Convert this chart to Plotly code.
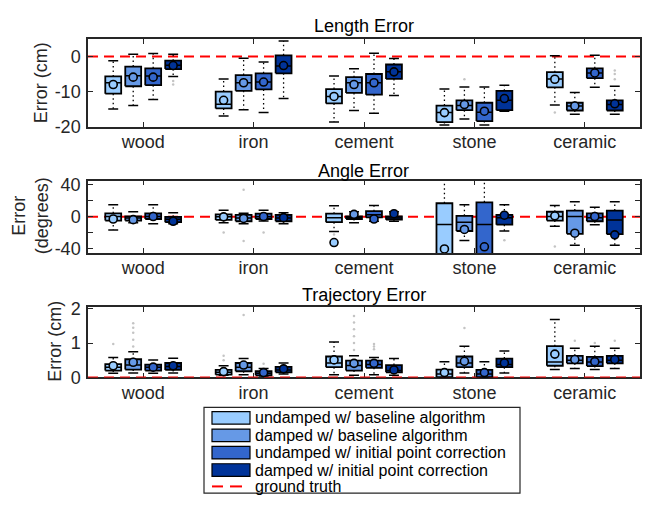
import plotly.graph_objects as go

# ---------------------------------------------------------------- data
CATEGORIES = ["wood", "iron", "cement", "stone", "ceramic"]
SERIES = [
    "undamped w/ baseline algorithm",
    "damped w/ baseline algorithm",
    "undamped w/ initial point correction",
    "damped w/ initial point correction",
]
COLORS = ["#99ccff", "#6699e6", "#3366cc", "#003399"]

# Length error (cm); each row is one series, each column one material
LEN_LO = [[-15.0, -17.0, -18.7, -19.5, -13.8],
          [-14.0, -15.2, -15.4, -17.8, -16.5],
          [-12.3, -16.0, -16.2, -19.5, -8.8],
          [-5.7, -12.0, -11.1, -15.6, -16.5]]
LEN_Q1 = [[-10.6, -14.8, -13.4, -18.7, -8.8],
          [-8.5, -9.8, -10.4, -15.3, -15.4],
          [-8.2, -9.4, -10.9, -18.4, -6.2],
          [-3.6, -4.8, -6.4, -15.3, -15.4]]
LEN_MED = [[-7.5, -13.6, -11.4, -16.0, -6.4],
           [-5.5, -7.5, -7.5, -14.0, -14.1],
           [-5.6, -7.3, -7.5, -15.9, -4.7],
           [-2.5, -2.7, -4.4, -12.5, -13.7]]
LEN_Q3 = [[-5.7, -10.0, -9.3, -14.0, -4.5],
          [-2.9, -5.3, -5.9, -12.5, -13.2],
          [-3.4, -4.8, -5.0, -13.2, -3.4],
          [-1.2, 0.3, -2.3, -9.8, -12.5]]
LEN_HI = [[-1.2, -6.4, -5.6, -9.3, 0.2],
          [0.6, -0.5, -3.5, -8.7, -10.3],
          [0.8, -1.6, 0.9, -8.7, 0.3],
          [0.6, 4.4, -0.6, -8.2, -8.5]]
LEN_MEAN = [[-8.0, -12.5, -11.4, -16.0, -6.5],
            [-5.9, -7.5, -8.0, -13.7, -14.1],
            [-5.9, -7.3, -7.5, -15.6, -4.7],
            [-2.6, -2.6, -4.4, -12.0, -13.5]]
LEN_OUT = [[[], [], [], [], [-16.0]],
           [[], [], [], [-6.5], []],
           [[], [], [], [], []],
           [[-7.0, -8.0], [], [], [], [-4.0, -5.0, -6.5]]]

# Angle error (degrees)
ANG_LO = [[-16.5, -7.5, -18.4, -60.0, -11.8],
          [-7.5, -8.6, -7.5, -29.4, -35.3],
          [-8.6, -5.1, -5.5, -60.0, -9.8],
          [-8.6, -8.6, -5.5, -17.6, -35.3]]
ANG_Q1 = [[-4.7, -3.9, -6.7, -55.0, -4.7],
          [-4.7, -5.5, -2.7, -17.6, -21.2],
          [-2.7, -2.7, -0.8, -55.0, -5.5],
          [-6.7, -5.5, -3.5, -9.8, -21.6]]
ANG_MED = [[0.5, 0.0, -1.0, -9.4, 0.4],
           [-1.5, -1.5, -1.0, -6.7, 0.4],
           [0.4, 0.0, 2.5, -9.4, -1.0],
           [-3.0, -1.5, -1.5, -1.2, -3.9]]
ANG_Q3 = [[4.3, 3.1, 3.9, 16.9, 6.3],
          [0.4, 2.4, 0.4, 1.2, 7.8],
          [4.3, 3.9, 7.0, 18.0, 4.3],
          [0.0, 2.4, 0.4, 2.4, 7.8]]
ANG_HI = [[15.0, 8.2, 13.7, 60.0, 14.0],
          [6.3, 4.3, 6.3, 15.0, 18.8],
          [15.0, 8.2, 14.0, 60.0, 11.8],
          [5.0, 5.0, 6.3, 15.0, 18.8]]
ANG_MEAN = [[-2.7, 0.0, -32.0, -40.0, 1.2],
            [-3.5, -2.0, 3.1, -15.7, -20.4],
            [0.4, 0.4, -2.7, -37.3, 0.4],
            [-5.5, -1.0, 3.9, 2.0, -22.4]]
ANG_OUT = [[[], [-19.6], [-22.0, -28.0], [], [-37.0]],
           [[], [33.8, -30.0], [], [], []],
           [[], [-19.6], [], [], []],
           [[], [], [], [-29.0], []]]

# Trajectory error (cm)
TRA_LO = [[0.12, 0.06, 0.08, 0.0, 0.23],
          [0.13, 0.08, 0.06, 0.13, 0.26],
          [0.12, 0.04, 0.08, 0.0, 0.23],
          [0.13, 0.10, 0.06, 0.13, 0.26]]
TRA_Q1 = [[0.20, 0.08, 0.30, 0.01, 0.34],
          [0.23, 0.18, 0.20, 0.30, 0.41],
          [0.20, 0.06, 0.28, 0.01, 0.33],
          [0.22, 0.15, 0.15, 0.30, 0.41]]
TRA_MED = [[0.30, 0.15, 0.42, 0.10, 0.45],
           [0.36, 0.30, 0.35, 0.42, 0.50],
           [0.30, 0.12, 0.38, 0.10, 0.45],
           [0.32, 0.22, 0.20, 0.38, 0.50]]
TRA_Q3 = [[0.39, 0.22, 0.61, 0.23, 0.91],
          [0.53, 0.42, 0.49, 0.61, 0.63],
          [0.37, 0.18, 0.49, 0.22, 0.60],
          [0.42, 0.31, 0.36, 0.55, 0.63]]
TRA_HI = [[0.58, 0.34, 1.03, 0.46, 1.69],
          [0.75, 0.55, 0.63, 0.91, 0.85],
          [0.51, 0.26, 0.58, 0.46, 0.91],
          [0.56, 0.42, 0.55, 0.77, 0.85]]
TRA_MEAN = [[0.34, 0.17, 0.51, 0.14, 0.68],
            [0.44, 0.36, 0.41, 0.47, 0.52],
            [0.30, 0.14, 0.41, 0.14, 0.46],
            [0.34, 0.25, 0.22, 0.42, 0.52]]
TRA_OUT = [[[0.97], [0.5, 0.63], [], [], []],
           [[0.9, 1.1, 1.3, 1.45, 1.58], [1.82], [0.8, 1.0, 1.2, 1.4, 1.6, 1.79], [1.44], [1.07]],
           [[], [0.4], [0.82, 0.9, 0.97], [], [1.0]],
           [[], [], [], [], [1.07]]]

# ---------------------------------------------------------------- geometry
W, H = 646, 508
GAP = 0.181      # spacing between the four boxes of a group
BW = 0.072       # half box width
CW = 0.045       # half whisker-cap width
AX_COLOR = "#262626"
FONT = "Liberation Sans, Arial, Helvetica, sans-serif"


def xpos(s, c):
    return c + 1 + (s - 1.5) * GAP


def px(xp):
    return xp / W


def py(yp):
    return 1 - yp / H


fig = go.Figure()


def add_panel(xr, yr, lo, q1, med, q3, hi, mean, outl):
    # ground-truth reference line
    fig.add_trace(go.Scatter(x=[0.5, 5.5], y=[0, 0], mode="lines", xaxis=xr, yaxis=yr,
                             line=dict(color="#ff0000", width=2, dash="10px,6px"),
                             showlegend=False, hoverinfo="skip"))
    # outliers
    ox, oy = [], []
    for s in range(4):
        for c in range(5):
            for v in outl[s][c]:
                ox.append(xpos(s, c))
                oy.append(v)
    fig.add_trace(go.Scatter(x=ox, y=oy, mode="markers", xaxis=xr, yaxis=yr,
                             marker=dict(size=2.5, color="#c4c4c4"),
                             showlegend=False, hoverinfo="skip"))
    for s in range(4):
        wx, wy, cx, cy, bx, by, mx, my = [], [], [], [], [], [], [], []
        for c in range(5):
            x0 = xpos(s, c)
            wx += [x0, x0, None, x0, x0, None]
            wy += [q3[s][c], hi[s][c], None, q1[s][c], lo[s][c], None]
            cx += [x0 - CW, x0 + CW, None, x0 - CW, x0 + CW, None]
            cy += [hi[s][c], hi[s][c], None, lo[s][c], lo[s][c], None]
            bx += [x0 - BW, x0 + BW, x0 + BW, x0 - BW, x0 - BW, None]
            by += [q1[s][c], q1[s][c], q3[s][c], q3[s][c], q1[s][c], None]
            mx += [x0 - BW, x0 + BW, None]
            my += [med[s][c], med[s][c], None]
        # whiskers
        fig.add_trace(go.Scatter(x=wx, y=wy, mode="lines", xaxis=xr, yaxis=yr,
                                 line=dict(color="black", width=1.3, dash="1.5px,3px"),
                                 showlegend=False, hoverinfo="skip"))
        fig.add_trace(go.Scatter(x=cx, y=cy, mode="lines", xaxis=xr, yaxis=yr,
                                 line=dict(color="black", width=1.5),
                                 showlegend=False, hoverinfo="skip"))
        # boxes
        fig.add_trace(go.Scatter(x=bx, y=by, mode="lines", fill="toself", xaxis=xr, yaxis=yr,
                                 fillcolor=COLORS[s], line=dict(color="black", width=1.8),
                                 showlegend=False, hoverinfo="skip"))
        # medians
        fig.add_trace(go.Scatter(x=mx, y=my, mode="lines", xaxis=xr, yaxis=yr,
                                 line=dict(color="black", width=1.5),
                                 showlegend=False, hoverinfo="skip"))
        # means
        fig.add_trace(go.Scatter(x=[xpos(s, c) for c in range(5)], y=mean[s], mode="markers",
                                 xaxis=xr, yaxis=yr,
                                 marker=dict(symbol="circle", size=8, color=COLORS[s],
                                             line=dict(color="black", width=1.6)),
                                 showlegend=False, hoverinfo="skip"))


add_panel("x", "y", LEN_LO, LEN_Q1, LEN_MED, LEN_Q3, LEN_HI, LEN_MEAN, LEN_OUT)
add_panel("x2", "y2", ANG_LO, ANG_Q1, ANG_MED, ANG_Q3, ANG_HI, ANG_MEAN, ANG_OUT)
add_panel("x3", "y3", TRA_LO, TRA_Q1, TRA_MED, TRA_Q3, TRA_HI, TRA_MEAN, TRA_OUT)

X_DOM = [px(88), px(640)]


def xaxis_cfg(anchor, layer="above traces"):
    return dict(domain=X_DOM, anchor=anchor, range=[0.5, 5.5],
                tickvals=[1, 2, 3, 4, 5], ticktext=CATEGORIES,
                ticks="inside", ticklen=5, tickwidth=1.2, tickcolor=AX_COLOR,
                showline=True, linecolor=AX_COLOR, linewidth=1.5, mirror="allticks",
                showgrid=False, zeroline=False, layer=layer, ticklabelstandoff=-2,
                tickfont=dict(family=FONT, size=18, color=AX_COLOR))


def yaxis_cfg(anchor, top, bot, rng, vals, text):
    return dict(domain=[py(bot), py(top)], anchor=anchor, range=rng,
                tickvals=vals, ticktext=text,
                ticks="inside", ticklen=5, tickwidth=1.2, tickcolor=AX_COLOR,
                showline=True, linecolor=AX_COLOR, linewidth=1.5, mirror="allticks",
                showgrid=False, zeroline=False, ticklabelstandoff=2,
                tickfont=dict(family=FONT, size=18, color=AX_COLOR))


fig.update_layout(
    width=W, height=H, autosize=False,
    margin=dict(l=0, r=0, t=0, b=0),
    paper_bgcolor="white", plot_bgcolor="white",
    showlegend=False,
    xaxis=xaxis_cfg("y"),
    xaxis2=xaxis_cfg("y2"),
    xaxis3=xaxis_cfg("y3", layer="below traces"),
    yaxis=yaxis_cfg("x", 32, 123, [-20, 5], [-20, -10, 0], ["-20", "-10", "0"]),
    yaxis2=yaxis_cfg("x2", 179, 254, [-45, 45], [-40, -20, 0, 20, 40],
                     ["-40", "", "0", "", "40"]),
    yaxis3=yaxis_cfg("x3", 310, 383, [0, 2.05], [0, 1, 2], ["0", "1", "2"]),
)

ann = []
shapes = []

# panel titles
for text, yc in [("Length Error", 19), ("Angle Error", 169), ("Trajectory Error", 298)]:
    ann.append(dict(text=text, x=px(364), y=py(yc), xref="paper", yref="paper",
                    xanchor="center", yanchor="middle", showarrow=False,
                    font=dict(family=FONT, size=18, color="black")))

# y-axis titles
for text, xc, yc in [("Error (cm)", 41, 78), ("Error<br>(degrees)", 30, 216),
                     ("Error (cm)", 55, 346)]:
    ann.append(dict(text=text, x=px(xc), y=py(yc), xref="paper", yref="paper",
                    xanchor="center", yanchor="middle", showarrow=False, textangle=-90,
                    font=dict(family=FONT, size=18, color=AX_COLOR)))

# legend
shapes.append(dict(type="rect", xref="paper", yref="paper",
                   x0=px(204), x1=px(520), y0=py(503), y1=py(414),
                   line=dict(color=AX_COLOR, width=1.2), fillcolor="white"))
rows = [425, 443, 461, 479, 496]
for i, name in enumerate(SERIES):
    yc = rows[i]
    shapes.append(dict(type="rect", xref="paper", yref="paper",
                       x0=px(212), x1=px(250), y0=py(yc + 6.5), y1=py(yc - 6.5),
                       line=dict(color="black", width=1.2), fillcolor=COLORS[i]))
    ann.append(dict(text=name, x=px(253), y=py(yc), xref="paper", yref="paper",
                    xanchor="left", yanchor="middle", showarrow=False,
                    font=dict(family=FONT, size=16, color="black")))
for a, b in [(212, 223), (230, 242)]:
    shapes.append(dict(type="line", xref="paper", yref="paper",
                       x0=px(a), x1=px(b), y0=py(rows[4]), y1=py(rows[4]),
                       line=dict(color="#ff0000", width=2)))
ann.append(dict(text="ground truth", x=px(253), y=py(rows[4]), xref="paper", yref="paper",
                xanchor="left", yanchor="middle", showarrow=False,
                font=dict(family=FONT, size=16, color="black")))

fig.update_layout(annotations=ann, shapes=shapes)
fig.write_html("out.html")
